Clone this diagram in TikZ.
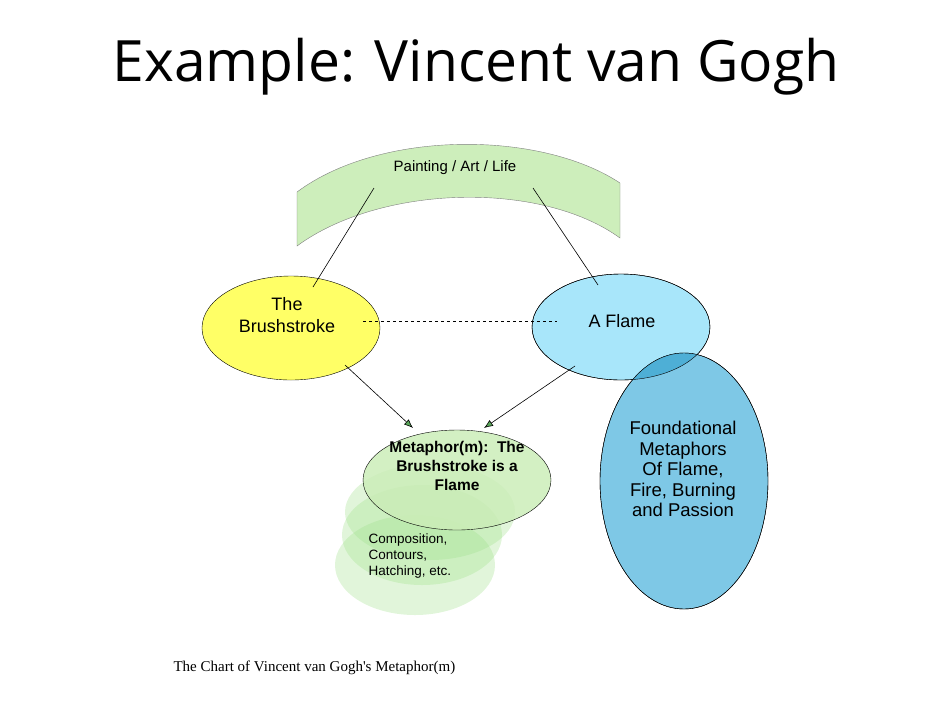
\documentclass[tikz,border=0pt]{standalone}
\usepackage{fontspec}
\setmainfont{Liberation Sans}
\newfontfamily\titlefont{Open Sans}
\newfontfamily\capfont{Liberation Serif}
\usetikzlibrary{arrows.meta}
\definecolor{banner}{HTML}{CDEEBB}
\definecolor{yel}{HTML}{FFFF66}
\definecolor{lblue}{HTML}{A8E6FA}
\definecolor{mblue}{HTML}{7EC8E6}
\definecolor{dblue}{HTML}{4EAFD6}
\definecolor{lgreen}{HTML}{CBEDB8}
\definecolor{fgreen}{HTML}{9BDF85}
\begin{document}
\begin{tikzpicture}[x=1pt,y=-1pt,
  conn/.style={draw=black,line width=0.6pt},
  arr/.style={conn,-{Latex[length=9pt,width=7pt,fill=green!30!gray]}},
  txt/.style={font=\fontsize{15}{18}\selectfont,align=center}]
\useasboundingbox (0,0) rectangle (950,713);
\node[font=\titlefont\fontsize{57}{60}\selectfont] (title) at (476,67) {Example: Vincent van Gogh};
% banner
\draw[fill=banner,draw=gray] (297,192) .. controls (380,130) and (540,130) .. (620,183)
  -- (620,238) .. controls (540,180) and (380,185) .. (297,246) -- cycle;
\node[txt] (paint) at (455,168) {Painting / Art / Life};
\coordinate (pl) at (374,188); \coordinate (pr) at (533,188);
% faded circles
\fill[fgreen,opacity=0.3] (415,565) ellipse (80 and 50);
\fill[fgreen,opacity=0.3] (422,535) ellipse (80 and 50);
\fill[fgreen,opacity=0.3] (430,512) ellipse (85 and 48);
\node[font=\fontsize{13.5}{16}\selectfont,align=left,anchor=west] (comp) at (365,556) {Composition,\\Contours,\\Hatching, etc.};
% ellipses
\draw[fill=yel] (291,328) ellipse (89 and 52);
\node[txt,font=\fontsize{18}{22}\selectfont] (brush) at (287,315) {The\\Brushstroke};
\draw[fill=lblue] (621,327) ellipse (89 and 53);
\node[txt,font=\fontsize{18}{22}\selectfont] (flame) at (622,321) {A Flame};
\draw[fill=mblue] (684,481) ellipse (84 and 128);
\begin{scope}
\clip (621,327) ellipse (89 and 53);
\fill[dblue] (684,481) ellipse (84 and 128);
\end{scope}
\draw (621,327) ellipse (89 and 53);
\draw (684,481) ellipse (84 and 128);
\node[txt,font=\fontsize{18.5}{20.5}\selectfont] (found) at (683,469) {Foundational\\Metaphors\\Of Flame,\\Fire, Burning\\and Passion};
\draw[fill=lgreen,fill opacity=0.85] (457,480) ellipse (94 and 50);
\node[txt,font=\bfseries\fontsize{15.5}{19}\selectfont] (meta) at (457,466) {Metaphor(m):\ \ The\\Brushstroke is a\\Flame};
% connectors
\draw[conn] (313,287) -- (pl);
\draw[conn] (598,285) -- (pr);
\draw[conn,dashed] (363,321) -- (557,321);
\draw[arr] (345,365) -- (413,428);
\draw[arr] (575,366) -- (484,428);
\node[font=\capfont\fontsize{15}{18}\selectfont,anchor=west] (cap) at (170,668) {The Chart of Vincent van Gogh's Metaphor(m)};
\end{tikzpicture}
\end{document}
